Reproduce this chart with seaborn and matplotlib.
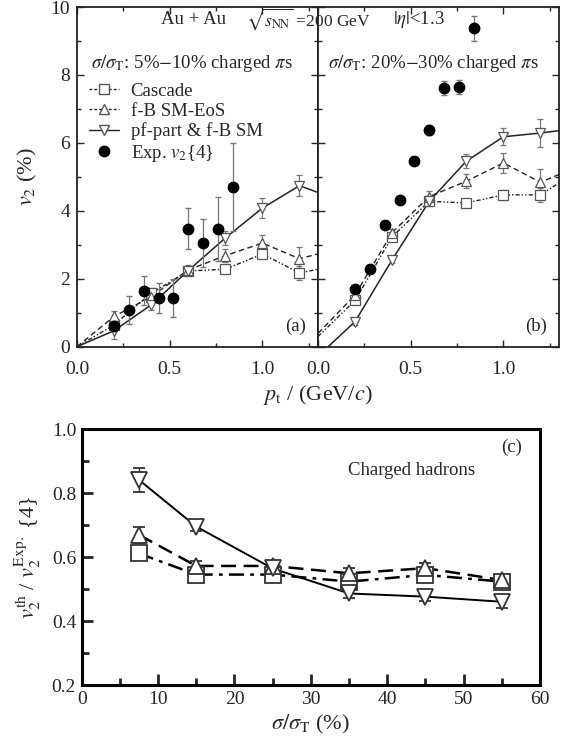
import numpy as np
import pandas as pd
import matplotlib
matplotlib.use("Agg")
import matplotlib.pyplot as plt
from matplotlib.lines import Line2D
from matplotlib.ticker import MultipleLocator
import seaborn as sns

# ---------------- data ----------------
pt_model = [0.2, 0.4, 0.6, 0.8, 1.0, 1.2]
pt_line_a = [0.0, 0.2, 0.4, 0.6, 0.8, 1.0, 1.2, 1.3]
pt_exp = [0.2, 0.28, 0.36, 0.44, 0.52, 0.6, 0.68, 0.76, 0.84]

# panel (a): 5%-10%
a_cascade = [0.0, 0.64, 1.57, 2.23, 2.28, 2.73, 2.17, 2.28]
a_cascade_err = [0.1, 0.15, 0.1, 0.1, 0.12, 0.2]
a_fbsm = [0.0, 0.89, 1.47, 2.26, 2.68, 3.05, 2.59, 2.73]
a_fbsm_err = [0.15, 0.15, 0.12, 0.2, 0.25, 0.35]
a_pfpart = [0.0, 0.47, 1.23, 2.24, 3.20, 4.08, 4.74, 4.54]
a_pfpart_err = [0.25, 0.15, 0.15, 0.2, 0.3, 0.3]
a_exp = [0.62, 1.08, 1.65, 1.43, 1.43, 3.47, 3.05, 3.47, 4.70]
a_exp_err = [0.15, 0.4, 0.42, 0.45, 0.55, 0.6, 0.7, 0.95, 1.3]

# panel (b): 20%-30%
b_cascade = [0.30, 1.36, 3.24, 4.28, 4.23, 4.47, 4.47, 4.82]
b_cascade_err = [0.1, 0.1, 0.1, 0.1, 0.15, 0.2]
b_fbsm = [0.39, 1.52, 3.36, 4.42, 4.87, 5.41, 4.84, 5.07]
b_fbsm_err = [0.1, 0.1, 0.15, 0.2, 0.3, 0.4]
b_pfpart = [-0.28, 0.74, 2.56, 4.28, 5.46, 6.18, 6.29, 6.36]
b_pfpart_err = [0.1, 0.1, 0.15, 0.2, 0.25, 0.4]
b_exp = [1.69, 2.28, 3.59, 4.33, 5.48, 6.39, 7.62, 7.65, 9.37]
b_exp_err = [0.1, 0.1, 0.1, 0.1, 0.1, 0.15, 0.2, 0.2, 0.38]

# panel (c)
centrality = [7.5, 15, 25, 35, 45, 55]
c_cascade = [0.612, 0.546, 0.546, 0.524, 0.545, 0.524]
c_cascade_err = [0.012, 0.012, 0.012, 0.012, 0.012, 0.012]
c_fbsm = [0.670, 0.573, 0.573, 0.550, 0.566, 0.529]
c_fbsm_err = [0.025, 0.015, 0.015, 0.015, 0.015, 0.015]
c_pfpart = [0.842, 0.696, 0.565, 0.487, 0.477, 0.461]
c_pfpart_err = [0.037, 0.015, 0.015, 0.015, 0.015, 0.02]

# ---------------- style ----------------
sns.set_theme(style="ticks")
plt.rcParams['font.family'] = ['Liberation Serif', 'DejaVu Serif']
plt.rcParams['mathtext.fontset'] = 'stix'
plt.rcParams['xtick.direction'] = 'in'
plt.rcParams['ytick.direction'] = 'in'

FS_TICK = 14
FS_TXT = 13.5
MCOL = '#555555'

fig = plt.figure(figsize=(5.76, 7.46), dpi=100)
axa = fig.add_axes([0.1337, 0.5353, 0.4184, 0.4553])
axb = fig.add_axes([0.5521, 0.5353, 0.4184, 0.4553])
axc = fig.add_axes([0.1418, 0.0814, 0.7957, 0.3431])

ls_casc = (0, (3, 1.5, 1, 1.5, 1, 1.5))
ls_fb = (0, (4, 2.5))


def top_panel(ax, casc, casc_e, fb, fb_e, pf, pf_e, exp, exp_e):
    df = pd.DataFrame({'pt': pt_line_a, 'casc': casc, 'fb': fb, 'pf': pf})
    sns.lineplot(data=df, x='pt', y='casc', ax=ax, color='#222222', lw=1.0,
                 linestyle=ls_casc)
    sns.lineplot(data=df, x='pt', y='fb', ax=ax, color='#222222', lw=1.0,
                 linestyle=ls_fb)
    sns.lineplot(data=df, x='pt', y='pf', ax=ax, color='#222222', lw=1.1,
                 linestyle='-')
    for vals, err, mk in [(casc[1:7], casc_e, 's'), (fb[1:7], fb_e, '^'),
                          (pf[1:7], pf_e, 'v')]:
        ax.errorbar(pt_model, vals, yerr=err, fmt=mk, ms=7, mfc='white',
                    mec=MCOL, ecolor='#777777', elinewidth=0.9, capsize=2.5,
                    mew=0.9, zorder=4)
    ax.errorbar(pt_exp, exp, yerr=exp_e, fmt='o', ms=7.5, color='black',
                ecolor='#777777', elinewidth=0.9, capsize=2.5, zorder=5)
    ax.set_xlim(0, 1.3)
    ax.set_ylim(0, 10)
    ax.xaxis.set_major_locator(MultipleLocator(0.5))
    ax.xaxis.set_minor_locator(MultipleLocator(0.25))
    ax.yaxis.set_major_locator(MultipleLocator(2))
    ax.yaxis.set_minor_locator(MultipleLocator(1))
    ax.xaxis.set_major_formatter(matplotlib.ticker.FormatStrFormatter('%.1f'))
    ax.tick_params(which='both', top=True, right=True, width=1.0,
                   labelsize=FS_TICK, pad=5)
    ax.tick_params(axis='x', which='both', pad=10)
    ax.tick_params(which='major', length=5)
    ax.tick_params(which='minor', length=3)
    ax.set_xlabel('')
    ax.set_ylabel('')
    for s in ax.spines.values():
        s.set_linewidth(1.3)
        s.set_color('#222222')


top_panel(axa, a_cascade, a_cascade_err, a_fbsm, a_fbsm_err, a_pfpart,
          a_pfpart_err, a_exp, a_exp_err)
top_panel(axb, b_cascade, b_cascade_err, b_fbsm, b_fbsm_err, b_pfpart,
          b_pfpart_err, b_exp, b_exp_err)
axb.tick_params(labelleft=False)
axa.set_yticks([0, 2, 4, 6, 8, 10])
axa.set_yticklabels(['0', '2', '4', '6', '8', '10'])

axa.set_ylabel(r'$v_2$ (%)', fontsize=16, labelpad=8)
fig.text(0.552, 0.4705, r'$p_\mathrm{t}$ / (GeV/$c$)', ha='center',
         va='center', fontsize=16)

# annotations
fig.text(0.336, 0.974, 'Au + Au', ha='center', va='center', fontsize=FS_TXT)
fig.text(0.535, 0.974, r'$\sqrt{s_\mathrm{NN}}$ =200 GeV', ha='center',
         va='center', fontsize=12.5)
fig.text(0.727, 0.974, r'$|\eta|$<1.3', ha='center', va='center',
         fontsize=FS_TXT)
axa.text(0.06, 0.835, r'$\sigma/\sigma_\mathrm{T}$: 5%$-$10% charged $\pi$s',
         transform=axa.transAxes, fontsize=FS_TXT, va='center')
axb.text(0.04, 0.835, r'$\sigma/\sigma_\mathrm{T}$: 20%$-$30% charged $\pi$s',
         transform=axb.transAxes, fontsize=FS_TXT, va='center')
axa.text(0.95, 0.06, '(a)', transform=axa.transAxes, fontsize=FS_TXT,
         ha='right', va='center')
axb.text(0.95, 0.06, '(b)', transform=axb.transAxes, fontsize=FS_TXT,
         ha='right', va='center')

handles = [
    Line2D([], [], color='#222222', lw=1.0, linestyle=(0, (2, 1.5)), marker='s',
           ms=7, mfc='white', mec=MCOL),
    Line2D([], [], color='#222222', lw=1.0, linestyle=(0, (2, 1.5)), marker='^',
           ms=7, mfc='white', mec=MCOL),
    Line2D([], [], color='#222222', lw=1.0, linestyle='-', marker='v',
           ms=7, mfc='white', mec=MCOL),
    Line2D([], [], color='black', lw=0, marker='o', ms=7.5),
]
labels = ['Cascade', 'f-B SM-EoS', 'pf-part & f-B SM', r'Exp. $v_2${4}']
axa.legend(handles, labels, loc='upper left', bbox_to_anchor=(0.02, 0.80),
           frameon=False, fontsize=FS_TXT, handlelength=1.6,
           handletextpad=0.6, labelspacing=0.15, borderaxespad=0)

# ---------------- panel (c) ----------------
dfc = pd.DataFrame({'cent': centrality, 'casc': c_cascade, 'fb': c_fbsm,
                    'pf': c_pfpart})
sns.lineplot(data=dfc, x='cent', y='casc', ax=axc, color='black', lw=1.8,
             linestyle=(0, (6, 2.5, 1.5, 2.5)))
sns.lineplot(data=dfc, x='cent', y='fb', ax=axc, color='black', lw=1.8,
             linestyle=(0, (6, 3)))
sns.lineplot(data=dfc, x='cent', y='pf', ax=axc, color='black', lw=1.4,
             linestyle='-')
for vals, err, mk in [(c_cascade, c_cascade_err, 's'), (c_fbsm, c_fbsm_err, '^'),
                      (c_pfpart, c_pfpart_err, 'v')]:
    axc.errorbar(centrality, vals, yerr=err, fmt=mk, ms=11, mfc='white',
                 mec='#333333', ecolor='#333333', elinewidth=1.0, capsize=4,
                 mew=1.3, zorder=4)
axc.set_xlim(0, 60)
axc.set_ylim(0.2, 1.0)
axc.xaxis.set_major_locator(MultipleLocator(10))
axc.xaxis.set_minor_locator(MultipleLocator(5))
axc.yaxis.set_major_locator(MultipleLocator(0.2))
axc.yaxis.set_minor_locator(MultipleLocator(0.1))
axc.yaxis.set_major_formatter(matplotlib.ticker.FormatStrFormatter('%.1f'))
axc.tick_params(which='both', width=2.0, labelsize=FS_TICK, pad=4)
axc.tick_params(which='major', length=8)
axc.tick_params(which='minor', length=5)
for s in axc.spines.values():
    s.set_linewidth(2.2)
    s.set_color('black')
axc.set_xlabel(r'$\sigma/\sigma_\mathrm{T}$ (%)', fontsize=16, labelpad=4)
axc.set_ylabel(r'$v_2^{\mathrm{th}}$ / $v_2^{\mathrm{Exp.}}$ {4}', fontsize=16,
               labelpad=6)
axc.text(0.96, 0.93, '(c)', transform=axc.transAxes, fontsize=FS_TXT,
         ha='right', va='center')
axc.text(0.72, 0.84, 'Charged hadrons', transform=axc.transAxes,
         fontsize=FS_TXT, ha='center', va='center')

fig.savefig('out.png', dpi=100)
